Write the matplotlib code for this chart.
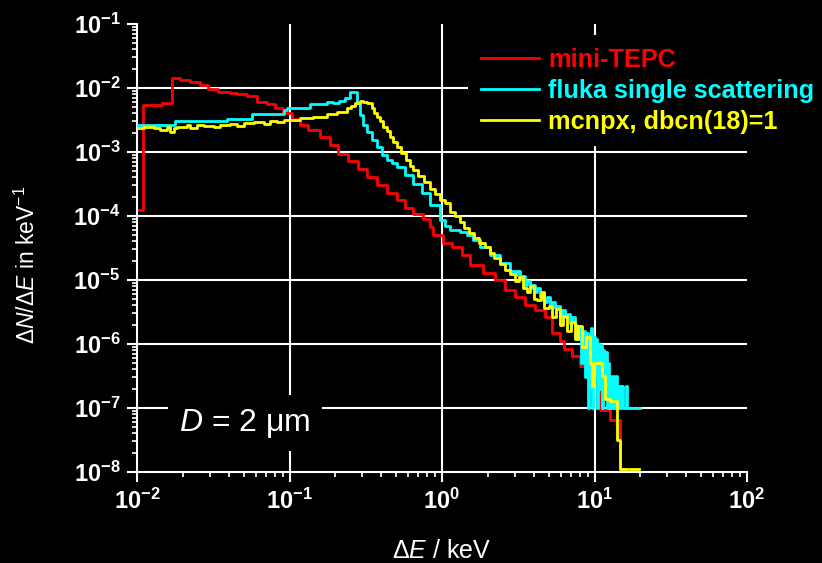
import matplotlib
matplotlib.use('Agg')
import matplotlib.pyplot as plt
import numpy as np
from matplotlib.ticker import LogLocator, FuncFormatter, NullFormatter

# bin edges (keV) and spectrum values (1/keV)
red_edges = [0.0100, 0.0110, 0.0145, 0.0169, 0.0191, 0.0223, 0.0259, 0.0294, 0.0341, 0.0407,
             0.0451, 0.0524, 0.0609, 0.0709, 0.0803, 0.0911, 0.1033, 0.117, 0.132, 0.158,
             0.184, 0.208, 0.241, 0.280, 0.322, 0.375, 0.434, 0.505, 0.575, 0.649,
             0.754, 0.834, 0.877, 1.02, 1.16, 1.35, 1.53, 1.87, 2.23, 2.59,
             3.01, 3.50, 4.07, 4.73, 5.24, 5.94, 6.30, 7.10, 8.00, 9.30,
             10.9, 12.6, 14.7, 16.0]
red_vals = [1.24e-4, 5.4e-3, 5.9e-3, 1.42e-2, 1.33e-2, 1.23e-2, 1.11e-2, 9.5e-3, 8.8e-3, 8.45e-3,
            8.15e-3, 7.5e-3, 6.1e-3, 5.6e-3, 4.8e-3, 4.1e-3, 3.3e-3, 2.64e-3, 2.2e-3, 1.7e-3,
            1.28e-3, 9.4e-4, 7.2e-4, 5.4e-4, 4.1e-4, 3.0e-4, 2.26e-4, 1.78e-4, 1.35e-4, 1.07e-4,
            9.0e-5, 6.8e-5, 5.05e-5, 3.74e-5, 3.31e-5, 2.46e-5, 1.71e-5, 1.3e-5, 1.0e-5, 7.0e-6,
            5.5e-6, 4.1e-6, 3.4e-6, 2.67e-6, 1.5e-6, 1.1e-6, 8.3e-7, 6.4e-7, 4.5e-7, 2.5e-7,
            9.3e-8, 6.6e-8, 1.0e-8]

cyan_edges = [0.0100, 0.0178, 0.0387, 0.0567, 0.0914, 0.0960, 0.136, 0.175, 0.194, 0.212,
              0.231, 0.249, 0.276, 0.290, 0.305, 0.321, 0.346, 0.373, 0.402, 0.433,
              0.468, 0.504, 0.575, 0.648, 0.740, 0.834, 0.970, 1.05, 1.13, 1.31,
              1.45, 1.60, 1.78, 2.06, 2.40, 2.79, 3.00, 3.12, 3.24, 3.37,
              3.50, 3.63, 3.76, 3.90, 4.05, 4.20, 4.37, 4.53, 4.70, 4.88,
              5.08, 5.28, 5.50, 5.70, 5.90, 6.15, 6.40, 6.65, 6.90, 7.15,
              7.40, 7.70, 8.00, 8.20, 8.40, 8.60, 8.80, 9.00, 9.20, 9.35,
              9.50, 9.70, 9.85, 10.0, 10.2, 10.4, 10.6, 10.8, 11.0, 11.2,
              11.4, 11.6, 11.8, 12.0, 12.2, 12.4, 12.6, 12.9, 13.2, 13.5,
              13.8, 14.1, 14.4, 14.7, 15.0, 15.4, 16.0, 16.3, 19.9]
cyan_vals = [2.6e-3, 3.08e-3, 3.25e-3, 3.9e-3, 4.5e-3, 4.8e-3, 5.56e-3, 6.1e-3, 5.77e-3, 6.3e-3,
             6.9e-3, 8.8e-3, 5.77e-3, 3.78e-3, 2.64e-3, 2.07e-3, 1.54e-3, 1.2e-3, 9.0e-4, 7.5e-4,
             6.7e-4, 5.9e-4, 4.3e-4, 3.2e-4, 2.3e-4, 1.5e-4, 8.7e-5, 7.0e-5, 6.0e-5, 5.7e-5,
             5.0e-5, 4.2e-5, 3.3e-5, 2.46e-5, 1.83e-5, 1.36e-5, 1.2e-5, 1.4e-5, 1.05e-5, 1.15e-5,
             8.5e-6, 9.5e-6, 7.4e-6, 8.5e-6, 6.5e-6, 7.5e-6, 5.5e-6, 6.3e-6, 4.6e-6, 5.5e-6,
             3.8e-6, 4.6e-6, 3.6e-6, 3.9e-6, 2.7e-6, 3.4e-6, 2.6e-6, 2.9e-6, 2.1e-6, 2.6e-6,
             2.0e-6, 1.2e-6, 1.8e-6, 5.0e-7, 1.6e-6, 3.0e-7, 1.5e-6, 1.0e-7, 1.4e-6, 2.0e-7,
             1.8e-6, 1.0e-7, 1.3e-6, 3.0e-7, 1.2e-6, 1.0e-7, 1.0e-6, 2.0e-7, 9.6e-7, 1.0e-7,
             8.0e-7, 1.5e-7, 7.5e-7, 1.0e-7, 5.0e-7, 1.0e-7, 3.2e-7, 1.0e-7, 3.2e-7, 1.0e-7,
             3.2e-7, 1.0e-7, 2.2e-7, 1.0e-7, 2.2e-7, 1.0e-7, 2.2e-7, 1.0e-7]

yellow_edges = [0.0100, 0.01106, 0.01286, 0.01422, 0.01573, 0.01654, 0.01739, 0.01829, 0.02127, 0.02237,
                0.02473, 0.02735, 0.03182, 0.0350, 0.04090, 0.04523, 0.05002, 0.05817, 0.06765, 0.07482,
                0.08274, 0.09150, 0.1012, 0.117, 0.143, 0.175, 0.204, 0.237, 0.255, 0.269,
                0.290, 0.305, 0.321, 0.346, 0.360, 0.373, 0.392, 0.412, 0.435, 0.456,
                0.480, 0.504, 0.540, 0.580, 0.620, 0.648, 0.700, 0.760, 0.834, 0.900,
                0.970, 1.05, 1.13, 1.22, 1.31, 1.40, 1.50, 1.62, 1.75, 1.90,
                2.05, 2.20, 2.40, 2.60, 2.80, 3.00, 3.20, 3.40, 3.60, 3.80,
                4.00, 4.20, 4.45, 4.70, 5.00, 5.30, 5.60, 5.90, 6.25, 6.60,
                7.00, 7.40, 7.80, 8.30, 8.80, 9.30, 9.60, 9.90, 10.5, 11.2,
                11.8, 12.6, 14.0, 14.7, 16.3, 17.0, 19.5]
yellow_vals = [2.35e-3, 2.48e-3, 2.35e-3, 2.21e-3, 2.48e-3, 2.07e-3, 2.35e-3, 2.48e-3, 2.64e-3, 2.35e-3,
               2.64e-3, 2.58e-3, 2.48e-3, 2.6e-3, 2.71e-3, 2.58e-3, 2.81e-3, 2.91e-3, 2.71e-3, 3.05e-3,
               2.91e-3, 3.16e-3, 3.2e-3, 3.37e-3, 3.55e-3, 3.87e-3, 4.26e-3, 4.9e-3, 5.3e-3, 5.77e-3,
               6.25e-3, 6.1e-3, 5.77e-3, 4.8e-3, 4.1e-3, 3.55e-3, 3.0e-3, 2.48e-3, 2.1e-3, 1.73e-3,
               1.45e-3, 1.2e-3, 9.5e-4, 7.5e-4, 6.0e-4, 5.2e-4, 4.2e-4, 3.4e-4, 2.6e-4, 2.2e-4,
               1.8e-4, 1.6e-4, 1.15e-4, 1.0e-4, 8.0e-5, 6.5e-5, 5.5e-5, 4.6e-5, 3.8e-5, 3.3e-5,
               2.6e-5, 2.2e-5, 1.8e-5, 1.45e-5, 1.25e-5, 9.5e-6, 1.1e-5, 7.5e-6, 6.6e-6, 8.0e-6,
               5.0e-6, 4.9e-6, 6.5e-6, 3.6e-6, 3.9e-6, 2.6e-6, 3.5e-6, 2.0e-6, 2.7e-6, 1.6e-6,
               2.2e-6, 1.2e-6, 1.9e-6, 9.0e-7, 1.3e-6, 5.0e-7, 2.2e-7, 5.0e-7, 5.1e-7, 3.2e-7,
               1.4e-7, 1.3e-7, 3.2e-8, 1.1e-8, np.nan, 1.1e-8]

series = [
    ("mini-TEPC", red_edges, red_vals, "#ff0000"),
    ("fluka single scattering", cyan_edges, cyan_vals, "#00ffff"),
    ("mcnpx, dbcn(18)=1", yellow_edges, yellow_vals, "#ffff00"),
]

plt.rcParams['font.family'] = 'Liberation Sans'
plt.rcParams['mathtext.fontset'] = 'custom'
plt.rcParams['mathtext.rm'] = 'Liberation Sans'
plt.rcParams['mathtext.it'] = 'Liberation Sans:italic'
plt.rcParams['mathtext.bf'] = 'Liberation Sans:bold'

fig = plt.figure(figsize=(8.22, 5.63), dpi=100, facecolor='black')
ax = fig.add_axes([137 / 822, 1 - 472 / 563, 610 / 822, 448 / 563])
ax.set_facecolor('black')

for i, (label, edges, vals, color) in enumerate(series):
    y = np.append(vals, vals[-1])
    ax.step(edges, y, where='post', color=color, lw=2, label=label, zorder=2 + i)

ax.set_xscale('log')
ax.set_yscale('log')
ax.set_xlim(1e-2, 1e2)
ax.set_ylim(1e-8, 1e-1)

# grid at the inner decades
for xv in [1e-1, 1e0, 1e1]:
    ax.axvline(xv, color='white', lw=1.5, zorder=1)
for yv in [1e-2, 1e-3, 1e-4, 1e-5, 1e-6, 1e-7]:
    ax.axhline(yv, color='white', lw=1.5, zorder=1)

for s in ['top', 'right']:
    ax.spines[s].set_visible(False)
for s in ['left', 'bottom']:
    ax.spines[s].set_color('white')
    ax.spines[s].set_linewidth(1.5)

fmt = FuncFormatter(lambda v, pos: r'$\mathbf{10^{%d}}$' % round(np.log10(v)))
for axis in [ax.xaxis, ax.yaxis]:
    axis.set_major_locator(LogLocator(base=10, numticks=20))
    axis.set_minor_locator(LogLocator(base=10, subs=np.arange(2, 10), numticks=20))
    axis.set_major_formatter(fmt)
    axis.set_minor_formatter(NullFormatter())
ax.tick_params(which='major', direction='out', length=7, width=1.5, colors='white',
               labelsize=17, pad=5)
ax.tick_params(which='minor', direction='out', length=3.5, width=1.2, colors='white')

ax.set_xlabel('Δ$E$ / keV', fontsize=18, color='white', labelpad=18)
ax.set_ylabel('$ΔN/ΔE$ in keV$^{-1}$', fontsize=16.5, color='white')
ax.yaxis.set_label_coords(-0.159, 0.462)

leg = ax.legend(loc='upper left', bbox_to_anchor=(468 / 822, 1 - 35 / 563),
                bbox_transform=fig.transFigure, frameon=True, facecolor='black',
                edgecolor='none', framealpha=1, fancybox=False, handlelength=2.3,
                handletextpad=0.36, labelspacing=0.28, borderpad=0.5, borderaxespad=0,
                prop={'weight': 'bold', 'size': 18.2}, labelcolor='linecolor')
leg.set_zorder(10)

ax.text(0.177, 0.109, '$D$ = 2 μm', transform=ax.transAxes, ha='center', va='center',
        fontsize=23, color='white', zorder=10,
        bbox=dict(facecolor='black', edgecolor='none', pad=8))

fig.savefig('out.png', dpi=100, facecolor='black')
